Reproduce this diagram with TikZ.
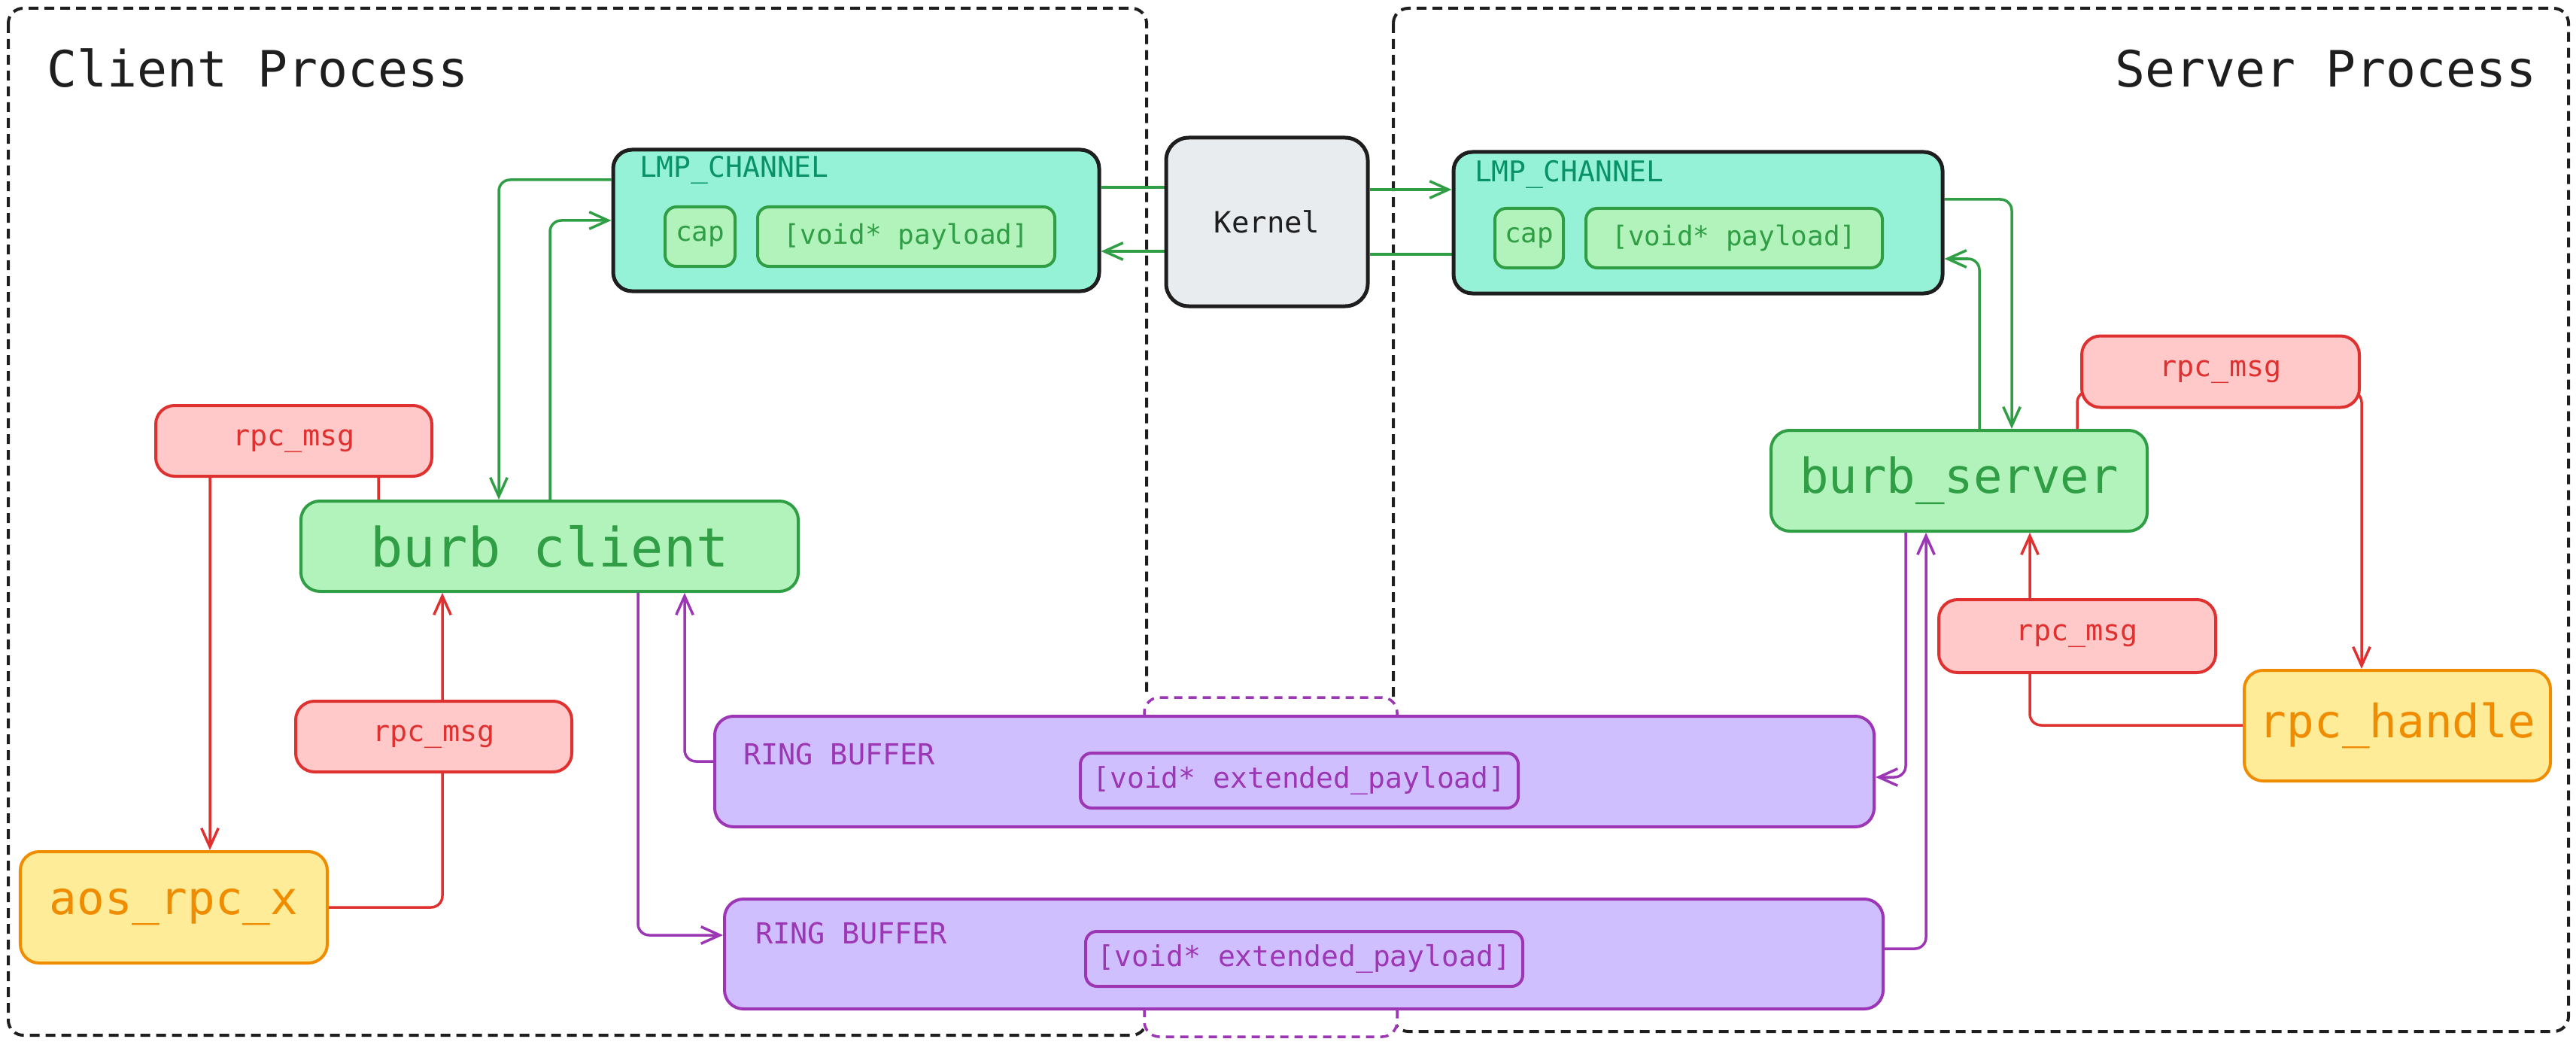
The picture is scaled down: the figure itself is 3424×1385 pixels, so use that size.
\documentclass[tikz,border=0pt]{standalone}
\usepackage{fontspec}
\setmainfont{DejaVu Sans Mono}
\usepackage{tikz}
\usetikzlibrary{arrows.meta}
\definecolor{ink}{HTML}{1E1E1E}
\definecolor{chanfill}{HTML}{96F2D7}
\definecolor{chantext}{HTML}{099268}
\definecolor{grnfill}{HTML}{B2F2BB}
\definecolor{grnline}{HTML}{2F9E44}
\definecolor{redfill}{HTML}{FFC9C9}
\definecolor{redline}{HTML}{E03131}
\definecolor{yelfill}{HTML}{FFEC99}
\definecolor{yelline}{HTML}{F08C00}
\definecolor{rbfill}{HTML}{D0BFFF}
\definecolor{rbline}{HTML}{9C36B5}
\definecolor{krnfill}{HTML}{E9ECEF}
\newcommand{\fsize}[1]{\fontsize{#1}{#1}\selectfont}
\pgfdeclarelayer{frame}
\pgfdeclarelayer{wires}
\pgfsetlayers{frame,wires,main}

\begin{document}
\begin{tikzpicture}[x=0.2pt, y=-0.2pt,
  procbox/.style={draw=ink, line width=0.8pt, dash pattern=on 2.6pt off 1.6pt, rounded corners=4pt},
  bridge/.style={draw=rbline, line width=0.7pt, dash pattern=on 2.2pt off 1.6pt, rounded corners=4pt},
  box/.style={draw, rounded corners=5pt, line width=0.8pt, inner sep=0pt},
  chanbox/.style={box, draw=ink, fill=chanfill, line width=1pt},
  chanlabel/.style={inner sep=0pt, text=chantext, font=\fsize{7.6pt}},
  fieldbox/.style={box, draw=grnline, fill=grnfill, text=grnline, rounded corners=3pt, font=\fsize{7.2pt}},
  kernelbox/.style={box, draw=ink, fill=krnfill, line width=1pt, rounded corners=6pt, text=ink, font=\fsize{7.8pt}},
  endbox/.style={box, draw=grnline, fill=grnfill, text=grnline},
  msgbox/.style={box, draw=redline, fill=redfill, text=redline, font=\fsize{7.7pt}},
  userbox/.style={box, draw=yelline, fill=yelfill, text=yelline, font=\fsize{12.2pt}},
  ringbox/.style={box, draw=rbline, fill=rbfill},
  ringlabel/.style={inner sep=0pt, text=rbline, font=\fsize{7.7pt}},
  extbox/.style={box, draw=rbline, text=rbline, rounded corners=3pt, font=\fsize{7.6pt}},
  title/.style={inner sep=0pt, text=ink, font=\fsize{13.3pt}},
  wire/.style={line width=0.7pt, rounded corners=3pt},
  tip/.style={-{Straight Barb[length=5pt,width=4.5pt]}},
  gline/.style={wire, draw=grnline},
  garrow/.style={gline, tip},
  rarrow/.style={wire, draw=redline, tip},
  parrow/.style={wire, draw=rbline, tip}]
\useasboundingbox (0,0) rectangle (3424,1385);

% process frames
\begin{pgfonlayer}{frame}
  \draw[procbox] (11,11) rectangle (1524,1376);
  \draw[procbox] (1852,11) rectangle (3414,1371);
  \fill[white] (1521,927) rectangle (1857,1378);
  \draw[bridge] (1521,953) -- (1521,927) -- (1857,927) -- (1857,953);
  \draw[bridge] (1521,1341) -- (1521,1378) -- (1857,1378) -- (1857,1341);
\end{pgfonlayer}

\node[title, anchor=west] (cliname) at (61,91) {Client Process};
\node[title, anchor=east] (srvname) at (3373,91) {Server Process};

% channels and kernel
\node[chanbox, minimum width=129.2pt, minimum height=37.6pt] (lmpL) at (1138,293) {};
\node[chanlabel, anchor=west] (lmpLname) at (849,226) {LMP\_CHANNEL};
\node[fieldbox, minimum width=18.6pt, minimum height=15.8pt] (capL) at (930.5,314.5) {cap};
\node[fieldbox, minimum width=79pt, minimum height=15.8pt] (payL) at (1204.5,314.5) {[void* payload]};

\node[kernelbox, minimum width=53.6pt, minimum height=44.8pt] (kernel) at (1684,295) {Kernel};

\node[chanbox, minimum width=130pt, minimum height=37.6pt] (lmpR) at (2257,296) {};
\node[chanlabel, anchor=west] (lmpRname) at (1959,232) {LMP\_CHANNEL};
\node[fieldbox, minimum width=18.2pt, minimum height=15.8pt] (capR) at (2032.5,316.5) {cap};
\node[fieldbox, minimum width=78.8pt, minimum height=15.8pt] (payR) at (2305,316.5) {[void* payload]};

% client side
\node[endbox, font=\fsize{14.4pt}, minimum width=132.2pt, minimum height=24pt] (burbc) at (730.5,726) {burb client};
\node[msgbox, minimum width=73.4pt, minimum height=18.8pt] (msgA) at (390.5,586) {rpc\_msg};
\node[msgbox, minimum width=73.4pt, minimum height=18.8pt] (msgB) at (576.5,979) {rpc\_msg};
\node[userbox, minimum width=81.6pt, minimum height=29.6pt] (aos) at (231,1206) {aos\_rpc\_x};

% ring buffers
\node[ringbox, minimum width=308.2pt, minimum height=29.4pt] (rb1) at (1720.5,1025.5) {};
\node[ringlabel, anchor=west] (rb1name) at (987,1002) {RING BUFFER};
\node[extbox, minimum width=116.4pt, minimum height=14.6pt] (ext1) at (1727,1037.5) {[void* extended\_payload]};
\node[ringbox, minimum width=308pt, minimum height=29.2pt] (rb2) at (1733,1268) {};
\node[ringlabel, anchor=west] (rb2name) at (1003,1240) {RING BUFFER};
\node[extbox, minimum width=116.2pt, minimum height=14.6pt] (ext2) at (1733.5,1274.5) {[void* extended\_payload]};

% server side
\node[endbox, font=\fsize{12.8pt}, minimum width=100pt, minimum height=26.8pt] (burbs) at (2604,639) {burb\_server};
\node[msgbox, minimum width=73.8pt, minimum height=19pt] (msgC) at (2951.5,494) {rpc\_msg};
\node[msgbox, minimum width=73.6pt, minimum height=19.4pt] (msgD) at (2761,845.5) {rpc\_msg};
\node[userbox, minimum width=81.4pt, minimum height=29.4pt] (handle) at (3186.5,964.5) {rpc\_handle};

\begin{pgfonlayer}{wires}
  % channel traffic through the kernel
  \draw[gline] (lmpL.east |- 0,249) -- (kernel.west |- 0,249);
  \draw[garrow] (kernel.west |- 0,334) -- (lmpL.east |- 0,334);
  \draw[garrow] (kernel.east |- 0,252) -- (lmpR.west |- 0,252);
  \draw[gline] (lmpR.west |- 0,338) -- (kernel.east |- 0,338);
  \draw[garrow] (lmpL.west |- 0,239) -| (663,0 |- burbc.north);
  \draw[garrow] (731,0 |- burbc.north) |- (lmpL.west |- 0,293);
  \draw[garrow] (lmpR.east |- 0,265) -| (2674,0 |- burbs.north);
  \draw[garrow] (2631,0 |- burbs.north) |- (lmpR.east |- 0,344);
  % rpc messages
  \draw[rarrow] (503,0 |- burbc.north) -- (503,600) -- (279,600) -- (279,0 |- aos.north);
  \draw[rarrow] (aos.east |- 0,1206) -| (588,0 |- burbc.south);
  \draw[rarrow] (2761,0 |- burbs.north) -- (2761,520) -| (3139,0 |- handle.north);
  \draw[rarrow] (handle.west |- 0,964) -| (2698,0 |- burbs.south);
  % ring buffers
  \draw[parrow] (848,0 |- burbc.south) |- (rb2.west |- 0,1243);
  \draw[parrow] (rb1.west |- 0,1012) -| (910,0 |- burbc.south);
  \draw[parrow] (2533,0 |- burbs.south) |- (rb1.east |- 0,1033);
  \draw[parrow] (rb2.east |- 0,1261) -| (2560,0 |- burbs.south);
\end{pgfonlayer}
\end{tikzpicture}
\end{document}
